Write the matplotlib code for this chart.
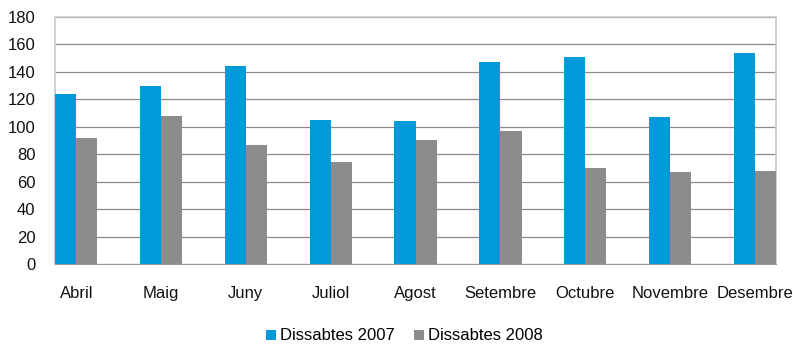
import matplotlib.pyplot as plt
import matplotlib
import numpy as np

matplotlib.rc('font', family='Liberation Sans', size=12)

mesos = ['Abril', 'Maig', 'Juny', 'Juliol', 'Agost', 'Setembre',
         'Octubre', 'Novembre', 'Desembre']
dissabtes_2007 = [124, 130, 144, 105, 104, 147, 151, 107, 154]
dissabtes_2008 = [92, 108, 87, 74, 90, 97, 70, 67, 68]

blau = '#009ad8'
gris = '#8c8c8c'
w = 0.25

fig = plt.figure(figsize=(7.93, 3.44), dpi=100)
ax = fig.add_axes([0.0694, 0.2326, 0.9092, 0.718])

x = np.arange(len(mesos))
ax.bar(x - w/2, dissabtes_2007, w, color=blau, label='Dissabtes 2007', zorder=3)
ax.bar(x + w/2, dissabtes_2008, w, color=gris, label='Dissabtes 2008', zorder=3)

ax.set_xlim(-w, len(mesos) - 1 + w)
ax.set_ylim(0, 180)
ax.set_yticks(np.arange(0, 181, 20))
ax.set_xticks(x)
ax.set_xticklabels(mesos)
ax.yaxis.grid(True, color='#8a8a8a', linewidth=0.9, zorder=0)
ax.tick_params(axis='both', length=0, labelsize=12, colors='#111111')
ax.tick_params(axis='y', pad=14)
ax.tick_params(axis='x', pad=16)

for side in ['top', 'right', 'left']:
    ax.spines[side].set_color('#c8c8c8')
    ax.spines[side].set_linewidth(1.2)
ax.spines['bottom'].set_color('#9a9a9a')

fig.legend(loc='lower center', bbox_to_anchor=(0.51, -0.042), ncol=2,
           frameon=False, fontsize=12, handlelength=0.55, handleheight=0.55,
           handletextpad=0.25, columnspacing=1.2)

fig.savefig('out.png', dpi=100)
